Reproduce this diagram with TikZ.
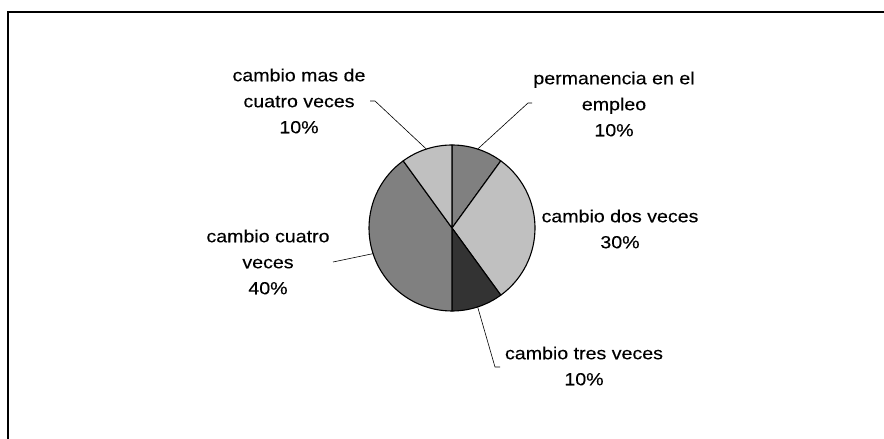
\documentclass[tikz,border=0pt]{standalone}
\usepackage{fontspec}
\setmainfont{Liberation Sans}[FakeStretch=1.12,FakeBold=0.2]
\usetikzlibrary{calc}
\begin{document}
\begin{tikzpicture}[x=1pt,y=1pt,
  lbl/.style={align=center, font=\fontsize{17.5}{26}\selectfont, inner sep=0pt},
  slice/.style={draw=black, line width=1.1pt, line join=round},
  leader/.style={draw=black, line width=0.6pt}]
\definecolor{gmid}{RGB}{128,128,128}
\definecolor{glight}{RGB}{192,192,192}
\definecolor{gdark}{RGB}{51,51,51}
\useasboundingbox (0,0) rectangle (884,439);
\clip (0,0) rectangle (884,439);
\fill[white] (0,0) rectangle (884,439);
\draw[line width=1.2pt] (8,-20) -- (8,427) -- (900,427);
\coordinate (c) at (452,211);
\def\R{83}
% slices
\filldraw[slice, fill=gmid] (c) -- ++(90:\R) arc[start angle=90, end angle=54, radius=\R] -- cycle;
\filldraw[slice, fill=glight] (c) -- ++(54:\R) arc[start angle=54, end angle=-54, radius=\R] -- cycle;
\filldraw[slice, fill=gdark] (c) -- ++(-54:\R) arc[start angle=-54, end angle=-90, radius=\R] -- cycle;
\filldraw[slice, fill=gmid] (c) -- ++(-90:\R) arc[start angle=-90, end angle=-234, radius=\R] -- cycle;
\filldraw[slice, fill=glight] (c) -- ++(126:\R) arc[start angle=126, end angle=90, radius=\R] -- cycle;
% anchor points on rim
\coordinate (pPerm) at ($(c)+(72:\R)$);
\coordinate (pMas) at ($(c)+(108:\R)$);
\coordinate (pCuatro) at ($(c)+(198:\R)$);
\coordinate (pTres) at ($(c)+(-72:\R)$);
% labels
\node[lbl] (lMas) at (299,338) {cambio mas de\\cuatro veces\\10\%};
\node[lbl] (lPerm) at (614,335) {permanencia en el\\empleo\\10\%};
\node[lbl] (lDos) at (620,210) {cambio dos veces\\30\%};
\node[lbl] (lCuatro) at (268,177) {cambio cuatro\\veces\\40\%};
\node[lbl] (lTres) at (584,73) {cambio tres veces\\10\%};
% leader elbows
\coordinate (eMas1) at (370,338);
\coordinate (eMas2) at (375,338);
\coordinate (ePerm1) at (532,336);
\coordinate (ePerm2) at (528,336);
\coordinate (eCuatro) at (333,177);
\coordinate (eTres1) at (495,72);
\coordinate (eTres2) at (500,72);
\draw[leader] (eMas1) -- (eMas2) -- (pMas);
\draw[leader] (ePerm1) -- (ePerm2) -- (pPerm);
\draw[leader] (eCuatro) -- (pCuatro);
\draw[leader] (pTres) -- (eTres1) -- (eTres2);
\end{tikzpicture}
\end{document}
